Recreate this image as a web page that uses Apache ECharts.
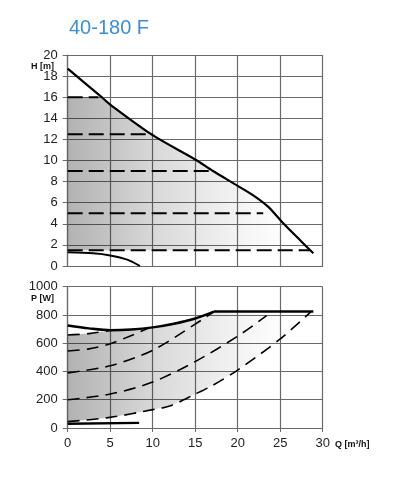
<!DOCTYPE html>
<html><head><meta charset="utf-8">
<script src="https://cdn.jsdelivr.net/npm/echarts@6/dist/echarts.min.js"></script>
<style>html,body{margin:0;padding:0;background:#fff}#c{width:394px;height:480px}</style>
</head><body><div id="c"></div>
<script>
const titleText = '40-180 F';
const qTicks = [0, 5, 10, 15, 20, 25, 30];
const hTicks = [0, 2, 4, 6, 8, 10, 12, 14, 16, 18, 20];
const pTicks = [0, 200, 400, 600, 800, 1000];

// Top chart: head H [m] vs flow Q
const hMaxQ = [0, 4, 5, 10, 15, 17.1, 20, 22, 23.6, 25.3, 27.4, 28.9];
const hMaxH = [18.7, 16, 15.3, 12.4, 10.1, 9, 7.6, 6.6, 5.6, 4.1, 2.4, 1.2];
const hMinQ = [0, 3, 5, 7, 8.5];
const hMinH = [1.3, 1.2, 1.0, 0.6, 0];
const hSetLevels = [16, 12.5, 9, 5, 1.5];
const hSetEndQ = [3.6, 10, 17, 23, 28.5];

// Bottom chart: power P [W] vs flow Q
const pMaxQ = [0, 2.5, 5, 7.5, 10, 12.5, 15, 17.2];
const pMaxP = [725, 705, 692, 697, 712, 738, 775, 824];
const pFlatQ = [17.2, 28.9];
const pFlatP = [824, 824];
const pMinQ = [0, 8.4];
const pMinP = [30, 36];
const pDash1Q = [0, 2.5, 5];
const pDash1P = [658, 668, 690];
const pDash2Q = [0, 2.5, 5, 7.5, 9.6];
const pDash2P = [545, 560, 596, 655, 710];
const pDash3Q = [0, 5, 10, 15, 17.2];
const pDash3P = [390, 440, 550, 735, 822];
const pDash4Q = [0, 5, 10, 15, 20, 23.4];
const pDash4P = [200, 240, 325, 470, 650, 795];
const pDash5Q = [0, 5, 10, 12, 15, 17, 20, 25, 28.6];
const pDash5P = [45, 75, 130, 155, 240, 300, 410, 630, 822];

const zip = (a, b) => a.map((v, i) => [v, b[i]]);

// shaded operating areas
const topArea = [[0, 16]].concat(zip(hMaxQ, hMaxH).filter(p => p[0] >= 4 && p[0] < 28.5)).concat([[28.5, 1.5], [0, 1.5]]);
const botArea = zip(pDash1Q, pDash1P)
  .concat(zip(pMaxQ, pMaxP).filter(p => p[0] > 5))
  .concat([[28.6, 824]])
  .concat(zip(pDash5Q, pDash5P).reverse().slice(1));

const font = 'Liberation Sans, Arial, sans-serif';
const gridCol = '#6a6a6a';

function areaSeries(xi, pts) {
  return {
    type: 'custom', xAxisIndex: xi, yAxisIndex: xi, silent: true, z: 1,
    data: [[0, 0]],
    renderItem: function (params, api) {
      const ptsPx = pts.map(p => api.coord(p));
      const x0 = api.coord([0, 0])[0];
      const x1 = api.coord([26, 0])[0];
      return {
        type: 'polygon',
        shape: { points: ptsPx, smooth: 0 },
        style: {
          fill: {
            type: 'linear', x: x0, y: 0, x2: x1, y2: 0, global: true,
            colorStops: [
              { offset: 0, color: 'rgba(0,0,0,0.30)' },
              { offset: 0.4, color: 'rgba(0,0,0,0.15)' },
              { offset: 0.75, color: 'rgba(0,0,0,0.05)' },
              { offset: 1, color: 'rgba(0,0,0,0)' }
            ]
          },
          stroke: null
        }
      };
    }
  };
}

function lineS(xi, q, v, width, dash, smooth) {
  return {
    type: 'line', xAxisIndex: xi, yAxisIndex: xi, data: zip(q, v),
    showSymbol: false, symbol: 'none', smooth: smooth ? 0.3 : false,
    z: 3, silent: true,
    lineStyle: { color: '#000', width: width, type: dash || 'solid', cap: 'butt' }
  };
}

const series = [
  areaSeries(0, topArea),
  areaSeries(1, botArea),
  lineS(0, hMaxQ, hMaxH, 2.2, null, true),
  lineS(0, hMinQ, hMinH, 2, null, true)
];
hSetLevels.forEach((h, i) => series.push(lineS(0, [0, hSetEndQ[i]], [h, h], 2, [15, 6], false)));
series.push(lineS(1, pMaxQ, pMaxP, 2.4, null, true));
series.push(lineS(1, pFlatQ, pFlatP, 2.4, null, false));
series.push(lineS(1, pMinQ, pMinP, 2.4, null, false));
[[pDash1Q, pDash1P], [pDash2Q, pDash2P], [pDash3Q, pDash3P], [pDash4Q, pDash4P], [pDash5Q, pDash5P]]
  .forEach(d => series.push(lineS(1, d[0], d[1], 1.6, [12, 7], true)));

const chart = echarts.init(document.getElementById('c'), null, { renderer: 'canvas' });
const plain = v => String(v);
chart.setOption({
  animation: false,
  backgroundColor: '#fff',
  title: {
    text: titleText, left: 64, top: 13,
    textStyle: { color: '#3b8ed3', fontSize: 20, fontWeight: 'normal', fontFamily: font }
  },
  graphic: [
    { type: 'text', right: 394 - 54, top: 62, style: { text: 'H [m]', font: 'bold 9px ' + font, fill: '#111' } },
    { type: 'text', right: 394 - 54, top: 294, style: { text: 'P [W]', font: 'bold 9px ' + font, fill: '#111' } },
    { type: 'text', left: 335, top: 440, style: { text: 'Q [m³/h]', font: 'bold 9px ' + font, fill: '#111' } }
  ],
  grid: [
    { left: 67.7, top: 55, width: 255, height: 211 },
    { left: 67.7, top: 286.7, width: 255, height: 141.3 }
  ],
  xAxis: [
    {
      type: 'value', gridIndex: 0, min: qTicks[0], max: qTicks[qTicks.length - 1], interval: qTicks[1] - qTicks[0],
      axisLabel: { show: false }, axisTick: { show: false },
      axisLine: { show: true, lineStyle: { color: gridCol, width: 1.2 } },
      splitLine: { show: true, lineStyle: { color: gridCol, width: 1.2 } }
    },
    {
      type: 'value', gridIndex: 1, min: qTicks[0], max: qTicks[qTicks.length - 1], interval: qTicks[1] - qTicks[0],
      axisLabel: { show: true, color: '#222', fontSize: 13, fontFamily: font, margin: 9, formatter: plain },
      axisTick: { show: true, length: 4, lineStyle: { color: gridCol } },
      axisLine: { show: true, lineStyle: { color: gridCol, width: 1.2 } },
      splitLine: { show: true, lineStyle: { color: gridCol, width: 1.2 } }
    }
  ],
  yAxis: [
    {
      type: 'value', gridIndex: 0, min: hTicks[0], max: hTicks[hTicks.length - 1], interval: hTicks[1] - hTicks[0],
      axisLabel: { color: '#222', fontSize: 13, fontFamily: font, margin: 10, formatter: plain },
      axisTick: { show: true, length: 5, lineStyle: { color: gridCol } },
      axisLine: { show: true, lineStyle: { color: gridCol, width: 1.2 } },
      splitLine: { show: true, lineStyle: { color: gridCol, width: 1.2 } }
    },
    {
      type: 'value', gridIndex: 1, min: pTicks[0], max: pTicks[pTicks.length - 1], interval: pTicks[1] - pTicks[0],
      axisLabel: { color: '#222', fontSize: 13, fontFamily: font, margin: 10, formatter: plain },
      axisTick: { show: true, length: 5, lineStyle: { color: gridCol } },
      axisLine: { show: true, lineStyle: { color: gridCol, width: 1.2 } },
      splitLine: { show: true, lineStyle: { color: gridCol, width: 1.2 } }
    }
  ],
  series: series
});
</script>
</body></html>
